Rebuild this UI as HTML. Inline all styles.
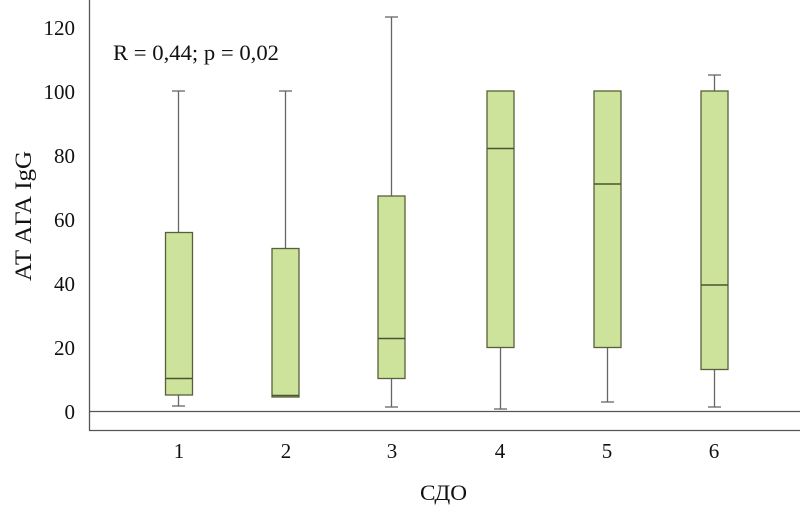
<!DOCTYPE html>
<html><head><meta charset="utf-8"><style>
html,body{margin:0;padding:0;background:#fff;}
svg{display:block;}
text{font-family:"Liberation Serif",serif;fill:#111;}
</style></head><body>
<svg width="800" height="510" viewBox="0 0 800 510" xmlns="http://www.w3.org/2000/svg">
<rect width="800" height="510" fill="#fff"/>
<!-- axes -->
<line x1="89.5" y1="0" x2="89.5" y2="430.5" stroke="#555" stroke-width="1.3"/>
<line x1="89" y1="430.5" x2="800" y2="430.5" stroke="#555" stroke-width="1.3"/>
<line x1="89" y1="411.5" x2="800" y2="411.5" stroke="#555" stroke-width="1.3"/>
<!-- y tick labels -->
<g font-size="21" text-anchor="end">
<text x="75" y="35">120</text>
<text x="75" y="99">100</text>
<text x="75" y="163">80</text>
<text x="75" y="227">60</text>
<text x="75" y="291">40</text>
<text x="75" y="355">20</text>
<text x="75" y="419">0</text>
</g>
<text x="0" y="0" font-size="23" text-anchor="middle" textLength="130" lengthAdjust="spacingAndGlyphs" transform="translate(31,216) rotate(-90)">АТ АГА IgG</text>
<text x="113" y="60" font-size="22" textLength="166" lengthAdjust="spacingAndGlyphs">R = 0,44; p = 0,02</text>
<!-- x tick labels -->
<g font-size="21" text-anchor="middle">
<text x="179" y="458">1</text>
<text x="286" y="458">2</text>
<text x="392" y="458">3</text>
<text x="500" y="458">4</text>
<text x="607" y="458">5</text>
<text x="714" y="458">6</text>
</g>
<text x="443.5" y="500" font-size="22" text-anchor="middle" textLength="47" lengthAdjust="spacingAndGlyphs">СДО</text>
<!-- whiskers -->
<g stroke="#666" stroke-width="1.3">
<line x1="178.5" y1="91" x2="178.5" y2="406"/><line x1="172" y1="91" x2="185" y2="91"/><line x1="172" y1="406" x2="185" y2="406"/>
<line x1="285.5" y1="91" x2="285.5" y2="397"/><line x1="279" y1="91" x2="292" y2="91"/>
<line x1="391.5" y1="17" x2="391.5" y2="407"/><line x1="385" y1="17" x2="398" y2="17"/><line x1="385" y1="407" x2="398" y2="407"/>
<line x1="500.5" y1="91" x2="500.5" y2="409"/><line x1="494" y1="409" x2="507" y2="409"/>
<line x1="607.5" y1="91" x2="607.5" y2="402"/><line x1="601" y1="402" x2="614" y2="402"/>
<line x1="714.5" y1="75" x2="714.5" y2="407"/><line x1="708" y1="75" x2="721" y2="75"/><line x1="708" y1="407" x2="721" y2="407"/>
</g>
<!-- boxes -->
<g fill="#cde29a" stroke="#56603a" stroke-width="1.3">
<rect x="165.5" y="232.5" width="27" height="162.5"/>
<rect x="272" y="248.5" width="27" height="148.5"/>
<rect x="378" y="196" width="27" height="182.5"/>
<rect x="487" y="91" width="27" height="256.5"/>
<rect x="594" y="91" width="27" height="256.5"/>
<rect x="701" y="91" width="27" height="278.5"/>
</g>
<!-- medians -->
<g stroke="#4a5530" stroke-width="1.6">
<line x1="165.5" y1="378.5" x2="192.5" y2="378.5"/>
<line x1="272" y1="395.5" x2="299" y2="395.5"/>
<line x1="378" y1="338.5" x2="405" y2="338.5"/>
<line x1="487" y1="148.5" x2="514" y2="148.5"/>
<line x1="594" y1="184" x2="621" y2="184"/>
<line x1="701" y1="285" x2="728" y2="285"/>
</g>
</svg>
</body></html>
